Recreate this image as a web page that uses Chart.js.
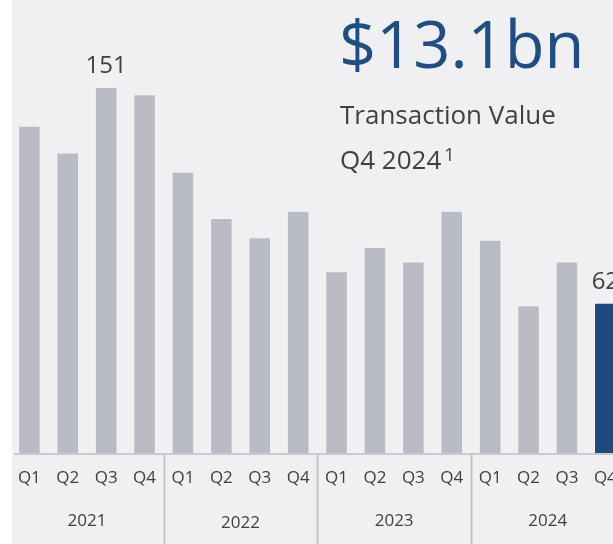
<!DOCTYPE html>
<html>
<head>
<meta charset="utf-8">
<script src="https://cdn.jsdelivr.net/npm/chart.js@4/dist/chart.umd.min.js"></script>
<style>
    html, body { margin: 0; padding: 0; background: #ffffff; }
    #wrap { position: relative; width: 613px; height: 544px; overflow: hidden; }
    #panel { position: absolute; left: 12px; top: 0; right: 0; bottom: 0; background: #f0f0f2; }
    #chart { position: absolute; left: 0; top: 0; }
</style>
</head>
<body>
<div id="wrap">
    <div id="panel"></div>
    <canvas id="chart" width="640" height="544"></canvas>
</div>
<script>
// datos del grafico
var quarters = ["Q1", "Q2", "Q3", "Q4", "Q1", "Q2", "Q3", "Q4", "Q1", "Q2", "Q3", "Q4", "Q1", "Q2", "Q3", "Q4"];
var years = ["2021", "2022", "2023", "2024"];
var values = [135, 124, 151, 148, 116, 97, 89, 100, 75, 85, 79, 100, 88, 61, 79, 62];
var labelledBars = [2, 15];
var headline = "$13.1bn";
var subtitle = "Transaction Value";
var period = "Q4 2024";
var footnote = "1";

var FONT = "'Open Sans', 'Noto Sans', sans-serif";
var TEXT = "#404040";
var BLUE = "#1f4a7e";
var GREY = "#b9bcc4";

var barColors = values.map(function (v, i) {
    return i === values.length - 1 ? BLUE : GREY;
});

// ejes, separadores y textos
var overlay = {
    id: "overlay",
    afterDatasetsDraw: function (chart) {
        var ctx = chart.ctx;
        var x = chart.scales.x;
        var y = chart.scales.y;
        var base = y.getPixelForValue(0);
        var half = (x.getPixelForValue(1) - x.getPixelForValue(0)) / 2;

        ctx.save();
        // linea del eje
        ctx.strokeStyle = "#c9cacf";
        ctx.lineWidth = 2;
        ctx.beginPath();
        ctx.moveTo(14, base + 1);
        ctx.lineTo(chart.width, base + 1);
        ctx.stroke();

        // separadores de anio
        ctx.strokeStyle = "#c4c5ca";
        for (var g = 1; g < years.length; g++) {
            var sx = Math.round(x.getPixelForValue(g * 4) - half) + 0.5;
            ctx.beginPath();
            ctx.moveTo(sx, base + 1);
            ctx.lineTo(sx, chart.height);
            ctx.stroke();
        }

        // etiquetas trimestre y anio
        ctx.fillStyle = TEXT;
        ctx.textAlign = "center";
        ctx.textBaseline = "alphabetic";
        ctx.font = "17px " + FONT;
        quarters.forEach(function (q, i) {
            ctx.fillText(q, x.getPixelForValue(i), 483);
        });
        years.forEach(function (yr, g) {
            var cx = (x.getPixelForValue(g * 4) + x.getPixelForValue(g * 4 + 3)) / 2;
            ctx.fillText(yr, cx, g === 1 ? 528 : 526);
        });

        // valores sobre barras
        ctx.font = "24px " + FONT;
        labelledBars.forEach(function (i) {
            ctx.fillText(String(values[i]), x.getPixelForValue(i), y.getPixelForValue(values[i]) - 14);
        });

        // titulo
        ctx.textAlign = "left";
        ctx.fillStyle = "#1f4e85";
        ctx.font = "65px " + FONT;
        ctx.fillText(headline, 339, 68);
        ctx.fillStyle = TEXT;
        ctx.font = "26px " + FONT;
        ctx.fillText(subtitle, 340, 124);
        ctx.fillText(period, 340, 169);
        var w = ctx.measureText(period).width;
        ctx.font = "18px " + FONT;
        ctx.fillText(footnote, 340 + w + 3, 161);
        ctx.restore();
    }
};

var chart = new Chart(document.getElementById("chart").getContext("2d"), {
    type: "bar",
    data: {
        labels: quarters,
        datasets: [
            {
                data: values,
                backgroundColor: barColors,
                borderColor: "rgba(255, 255, 255, 0.3)",
                borderWidth: 1,
                categoryPercentage: 1,
                barPercentage: 0.59,
            },
        ],
    },
    options: {
        responsive: false,
        animation: false,
        layout: {
            padding: { left: 10.15, right: 15.45, top: 65.2, bottom: 91 },
        },
        scales: {
            x: { display: false },
            y: { display: false, min: 0, max: 160 },
        },
        plugins: {
            legend: { display: false },
            tooltip: { enabled: false },
        },
    },
    plugins: [overlay],
});
</script>
</body>
</html>
